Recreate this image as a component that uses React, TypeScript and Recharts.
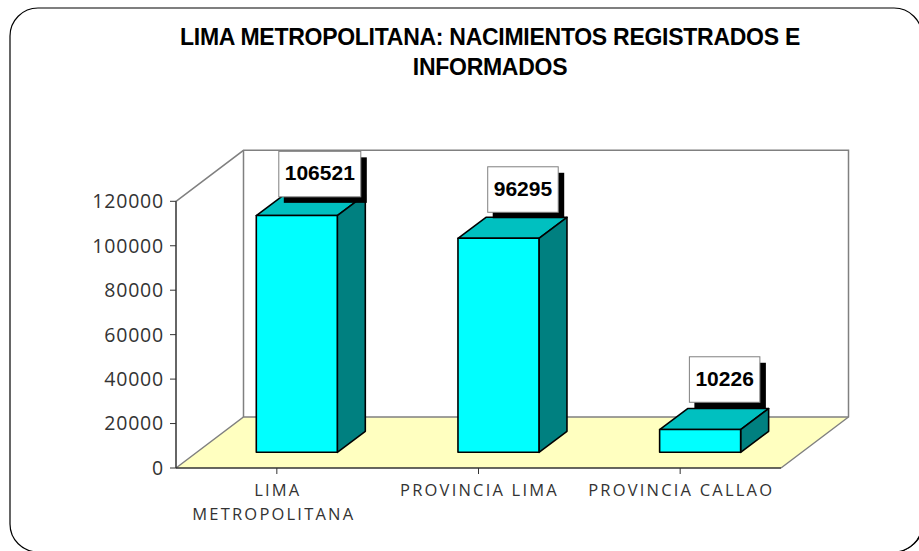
import React from "react";
import { BarChart, Bar, XAxis, YAxis, Customized, LabelList } from "recharts";

const categories = ["LIMA METROPOLITANA", "PROVINCIA LIMA", "PROVINCIA CALLAO"];
const births = [106521, 96295, 10226];
const yTicks = [0, 20000, 40000, 60000, 80000, 100000, 120000];
const titleLines = ["LIMA METROPOLITANA: NACIMIENTOS REGISTRADOS E", "INFORMADOS"];
const rows = categories.map((name, i) => ({ name, births: births[i] }));

const W = 919, H = 551;
const L = 176, R = 781, T = 201.3, B = 468;
const WALL_DX = 67.5, WALL_DY = -51;
const SHIFT_X = 20.3, SHIFT_Y = -15.7;
const DEPTH_X = 28, DEPTH_Y = -21;
const LABEL_GAP = [18.7, 26, 27.3];
const LABEL_DX = [23, 24.5, 24.5];
const GREY = "#808080";

const Backdrop = () => {
  const bl = L + WALL_DX, br = R + WALL_DX, bt = T + WALL_DY, bb = B + WALL_DY;
  return (
    <g>
      <rect x={13} y={11} width={912} height={542} rx={33} fill="#000" />
      <rect x={10} y={8} width={912} height={544} rx={28} fill="#fff" stroke="#000" strokeWidth={1.2} />
      <polygon points={`${L},${B} ${bl},${bb} ${br},${bb} ${R},${B}`} fill="#FFFFC0" />
      <polyline points={`${L},${T} ${bl},${bt} ${br},${bt} ${br},${bb} ${R},${B}`} fill="none" stroke={GREY} strokeWidth={1.5} />
      <polyline points={`${L},${B} ${bl},${bb} ${br},${bb}`} fill="none" stroke={GREY} strokeWidth={1.5} />
      <line x1={bl} y1={bt} x2={bl} y2={bb} stroke={GREY} strokeWidth={1.5} />
      {titleLines.map((t, i) => (
        <text key={t} x={490} y={44.5 + i * 30.5} textAnchor="middle" fontFamily="'Liberation Sans'" fontWeight={700} fontSize={23} letterSpacing={-0.27} fill="#000">
          {t}
        </text>
      ))}
    </g>
  );
};

const Box3D = (props: any) => {
  const { x, y, width, height } = props;
  const x0 = x + SHIFT_X, y0 = y + SHIFT_Y, x1 = x0 + width, y1 = y0 + height;
  const s = { stroke: "#000", strokeWidth: 1.6, strokeLinejoin: "round" as const };
  return (
    <g>
      <polygon points={`${x0},${y0} ${x0 + DEPTH_X},${y0 + DEPTH_Y} ${x1 + DEPTH_X},${y0 + DEPTH_Y} ${x1},${y0}`} fill="#00C0C0" {...s} />
      <polygon points={`${x1},${y0} ${x1 + DEPTH_X},${y0 + DEPTH_Y} ${x1 + DEPTH_X},${y1 + DEPTH_Y} ${x1},${y1}`} fill="#008080" {...s} />
      <rect x={x0} y={y0} width={width} height={height} fill="#00FFFF" {...s} />
    </g>
  );
};

const ValueTag = (props: any) => {
  const { x, y, width, value, index } = props;
  const text = String(value);
  const w = text.length > 5 ? 82 : 70.5;
  const h = 45.5;
  const cx = x + SHIFT_X + width / 2 + LABEL_DX[index];
  const bottom = y + SHIFT_Y - LABEL_GAP[index];
  return (
    <g>
      <rect x={cx - w / 2 + 5} y={bottom - h + 6} width={w + 1} height={h} fill="#000" />
      <rect x={cx - w / 2} y={bottom - h} width={w} height={h} fill="#fff" stroke={GREY} strokeWidth={1} />
      <text x={cx} y={bottom - h / 2 + 6} textAnchor="middle" fontFamily="'Liberation Sans'" fontWeight={700} fontSize={21} fill="#000">
        {text}
      </text>
    </g>
  );
};

const CategoryTick = (props: any) => {
  const { x, y, payload } = props;
  const words: string[] = String(payload.value).split(" ");
  const lines = payload.value === categories[0] ? words : [payload.value];
  const common = { textAnchor: "middle" as const, fontFamily: "'Open Sans'", fontSize: 16.5, fill: "#333", letterSpacing: 2.2 };
  return (
    <g>
      {lines.map((line: string, i: number) => (
        <text key={line} x={x + (i === 1 ? -3 : 1)} y={y + 20 + i * 24} {...common}>
          {line}
        </text>
      ))}
    </g>
  );
};

export default function App() {
  return (
    <div style={{ position: "fixed", left: 0, top: 0, width: W, height: H, overflow: "hidden", background: "#fff" }}>
      <BarChart width={W} height={H} data={rows} margin={{ top: T, right: W - R, bottom: 43, left: L - 90 }} barSize={81}>
        <Customized component={Backdrop} />
        <XAxis dataKey="name" height={H - B - 43} interval={0} tickLine={{ stroke: "#333" }} tickSize={6} axisLine={{ stroke: "#333", strokeWidth: 1.5 }} tick={<CategoryTick />} />
        <YAxis
          width={90}
          domain={[0, 120000]}
          ticks={yTicks}
          interval={0}
          tickSize={6}
          tickMargin={6}
          tickLine={{ stroke: "#333" }}
          axisLine={{ stroke: "#333", strokeWidth: 1.5 }}
          tick={{ fontFamily: "'Open Sans'", fontSize: 19.5, letterSpacing: 0.8, fill: "#333" }}
        />
        <Bar dataKey="births" isAnimationActive={false} shape={<Box3D />}>
          <LabelList dataKey="births" content={<ValueTag />} />
        </Bar>
      </BarChart>
    </div>
  );
}
